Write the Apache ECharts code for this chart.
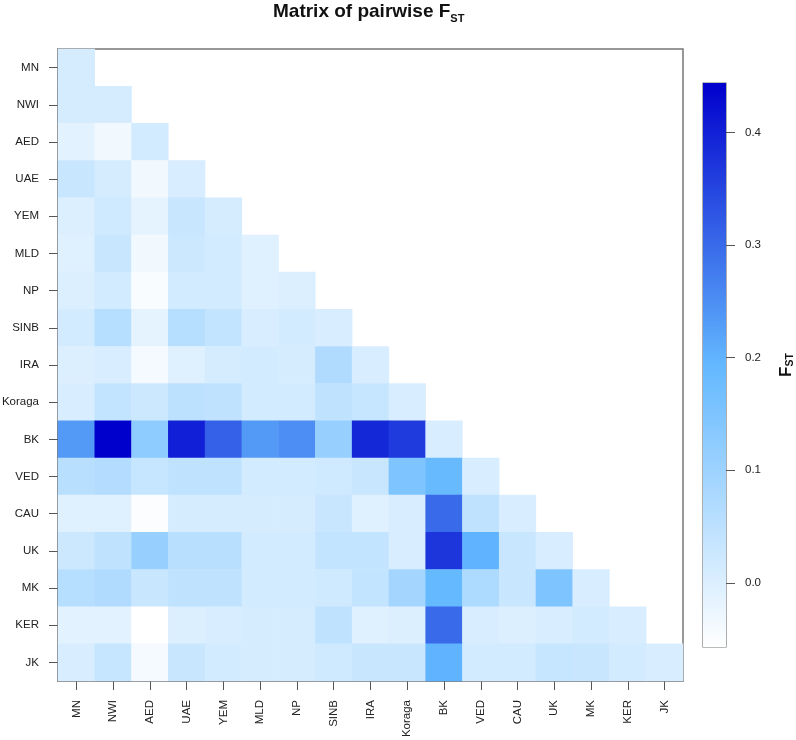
<!DOCTYPE html>
<html>
<head>
<meta charset="utf-8">
<script src="https://cdn.jsdelivr.net/npm/echarts@6/dist/echarts.min.js"></script>
<style>
html,body{margin:0;padding:0;background:#fff}
#chart{width:796px;height:740px}
</style>
</head>
<body>
<div id="chart"></div>
<script>
// Populations (rows top->bottom, columns left->right)
const populations = ['MN','NWI','AED','UAE','YEM','MLD','NP','SINB','IRA','Koraga','BK','VED','CAU','UK','MK','KER','JK'];

// Lower-triangle pairwise FST values, one array per row (columns MN ... row itself)
const rowMN     = [0.010];
const rowNWI    = [0.010, 0.010];
const rowAED    = [-0.010, -0.035, 0.015];
const rowUAE    = [0.030, 0.010, -0.035, 0.005];
const rowYEM    = [0.000, 0.020, -0.015, 0.030, 0.010];
const rowMLD    = [-0.005, 0.030, -0.035, 0.025, 0.015, -0.005];
const rowNP     = [0.000, 0.015, -0.045, 0.015, 0.015, -0.005, 0.000];
const rowSINB   = [0.015, 0.060, -0.015, 0.060, 0.040, 0.005, 0.015, 0.005];
const rowIRA    = [0.000, 0.005, -0.040, -0.005, 0.010, 0.015, 0.010, 0.070, 0.005];
const rowKoraga = [0.005, 0.040, 0.025, 0.050, 0.045, 0.015, 0.015, 0.045, 0.035, 0.005];
const rowBK     = [0.235, 0.444, 0.125, 0.400, 0.312, 0.235, 0.250, 0.110, 0.390, 0.365, 0.005];
const rowVED    = [0.055, 0.065, 0.035, 0.045, 0.045, 0.015, 0.015, 0.020, 0.030, 0.150, 0.185, 0.005];
const rowCAU    = [-0.005, -0.005, -0.050, 0.010, 0.010, 0.010, 0.010, 0.030, -0.005, 0.005, 0.300, 0.045, 0.005];
const rowUK     = [0.025, 0.045, 0.110, 0.055, 0.055, 0.015, 0.015, 0.040, 0.040, 0.005, 0.370, 0.200, 0.030, 0.005];
const rowMK     = [0.060, 0.070, 0.030, 0.045, 0.045, 0.015, 0.015, 0.020, 0.040, 0.090, 0.190, 0.075, 0.030, 0.150, 0.005];
const rowKER    = [-0.010, -0.010, -0.057, 0.000, 0.005, 0.010, 0.010, 0.045, -0.005, 0.000, 0.300, 0.005, 0.000, 0.005, 0.015, 0.005];
const rowJK     = [0.005, 0.035, -0.040, 0.030, 0.015, 0.010, 0.010, 0.020, 0.030, 0.030, 0.200, 0.015, 0.015, 0.035, 0.030, 0.015, 0.005];

const fstRows = [rowMN,rowNWI,rowAED,rowUAE,rowYEM,rowMLD,rowNP,rowSINB,rowIRA,rowKoraga,rowBK,rowVED,rowCAU,rowUK,rowMK,rowKER,rowJK];

// Colour key
const fstMin = -0.057;
const fstMax = 0.444;
const colorbarTicks = [0, 0.1, 0.2, 0.3, 0.4];
const rampColors = ['#ffffff', '#63B8FF', '#0000CD'];

const heatData = [];
fstRows.forEach((row, r) => row.forEach((v, c) => heatData.push([c, r, v])));

const FONT = '"Liberation Sans", Arial, sans-serif';
const chart = echarts.init(document.getElementById('chart'), null, {renderer: 'canvas'});

chart.setOption({
  backgroundColor: '#ffffff',
  animation: false,
  textStyle: {fontFamily: FONT},
  title: {
    text: '{a|Matrix of pairwise F}{b|ST}',
    left: 273, top: 0, padding: 0,
    textStyle: {
      rich: {
        a: {fontFamily: FONT, fontSize: 19, fontWeight: 'bold', color: '#111', lineHeight: 24},
        b: {fontFamily: FONT, fontSize: 11, fontWeight: 'bold', color: '#111', verticalAlign: 'bottom', padding: [11, 0, 0, 0], lineHeight: 14}
      }
    }
  },
  grid: [
    {left: 58, top: 49, width: 625, height: 632, show: true, borderColor: '#777', borderWidth: 1.5,
     backgroundColor: 'transparent', outerBoundsMode: 'none', containLabel: false},
    {left: 703, top: 83, width: 23, height: 564, show: true, borderColor: '#777', borderWidth: 1.2,
     backgroundColor: 'transparent', outerBoundsMode: 'none', containLabel: false}
  ],
  xAxis: [
    {
      type: 'category', gridIndex: 0, data: populations, position: 'bottom',
      axisLine: {show: true, lineStyle: {color: '#777', width: 1.5}},
      axisTick: {show: true, alignWithLabel: true, interval: 0, inside: false, length: 9, lineStyle: {color: '#555', width: 1}},
      axisLabel: {interval: 0, rotate: 90, margin: 19, fontSize: 11.5, color: '#222', fontFamily: FONT},
      splitLine: {show: false}
    },
    {type: 'category', gridIndex: 1, data: [''], show: false}
  ],
  yAxis: [
    {
      type: 'category', gridIndex: 0, data: populations, inverse: true,
      axisLine: {show: true, lineStyle: {color: '#777', width: 1.5}},
      axisTick: {show: true, alignWithLabel: true, interval: 0, inside: false, length: 9, lineStyle: {color: '#555', width: 1}},
      axisLabel: {interval: 0, margin: 19, fontSize: 11.5, color: '#222', fontFamily: FONT},
      splitLine: {show: false}
    },
    {
      type: 'value', gridIndex: 1, position: 'right', min: fstMin, max: fstMax,
      axisLine: {show: false},
      axisTick: {show: true, inside: false, length: 9, customValues: colorbarTicks, lineStyle: {color: '#555', width: 1}},
      axisLabel: {show: true, customValues: colorbarTicks, margin: 19, fontSize: 11.5, color: '#222', fontFamily: FONT,
                  formatter: v => Number(v).toFixed(1)},
      splitLine: {show: false},
      name: '{a|F}{b|ST}',
      nameLocation: 'middle', nameRotate: 90, nameGap: 50,
      nameTextStyle: {
        rich: {
          a: {fontFamily: FONT, fontSize: 17, fontWeight: 'bold', color: '#111', lineHeight: 20},
          b: {fontFamily: FONT, fontSize: 10.5, fontWeight: 'bold', color: '#111', verticalAlign: 'bottom', padding: [9, 0, 0, 0], lineHeight: 12}
        }
      }
    }
  ],
  visualMap: {
    show: false, type: 'continuous', seriesIndex: 0, dimension: 2,
    min: fstMin, max: fstMax,
    inRange: {color: rampColors}
  },
  series: [
    {
      type: 'heatmap', xAxisIndex: 0, yAxisIndex: 0, data: heatData,
      itemStyle: {borderWidth: 0},
      emphasis: {disabled: true}
    },
    {
      type: 'custom', xAxisIndex: 1, yAxisIndex: 1,
      data: [[0, fstMin, fstMax]],
      silent: true,
      renderItem: function (params, api) {
        const top = api.coord([api.value(0), api.value(2)]);
        const bot = api.coord([api.value(0), api.value(1)]);
        const w = api.size([1, 0])[0];
        return {
          type: 'rect',
          shape: {x: top[0] - w / 2, y: top[1], width: w, height: bot[1] - top[1]},
          style: {
            fill: {
              type: 'linear', x: 0, y: 0, x2: 0, y2: 1,
              colorStops: [
                {offset: 0, color: rampColors[2]},
                {offset: 0.5, color: rampColors[1]},
                {offset: 1, color: rampColors[0]}
              ]
            }
          }
        };
      }
    }
  ]
});
</script>
</body>
</html>
